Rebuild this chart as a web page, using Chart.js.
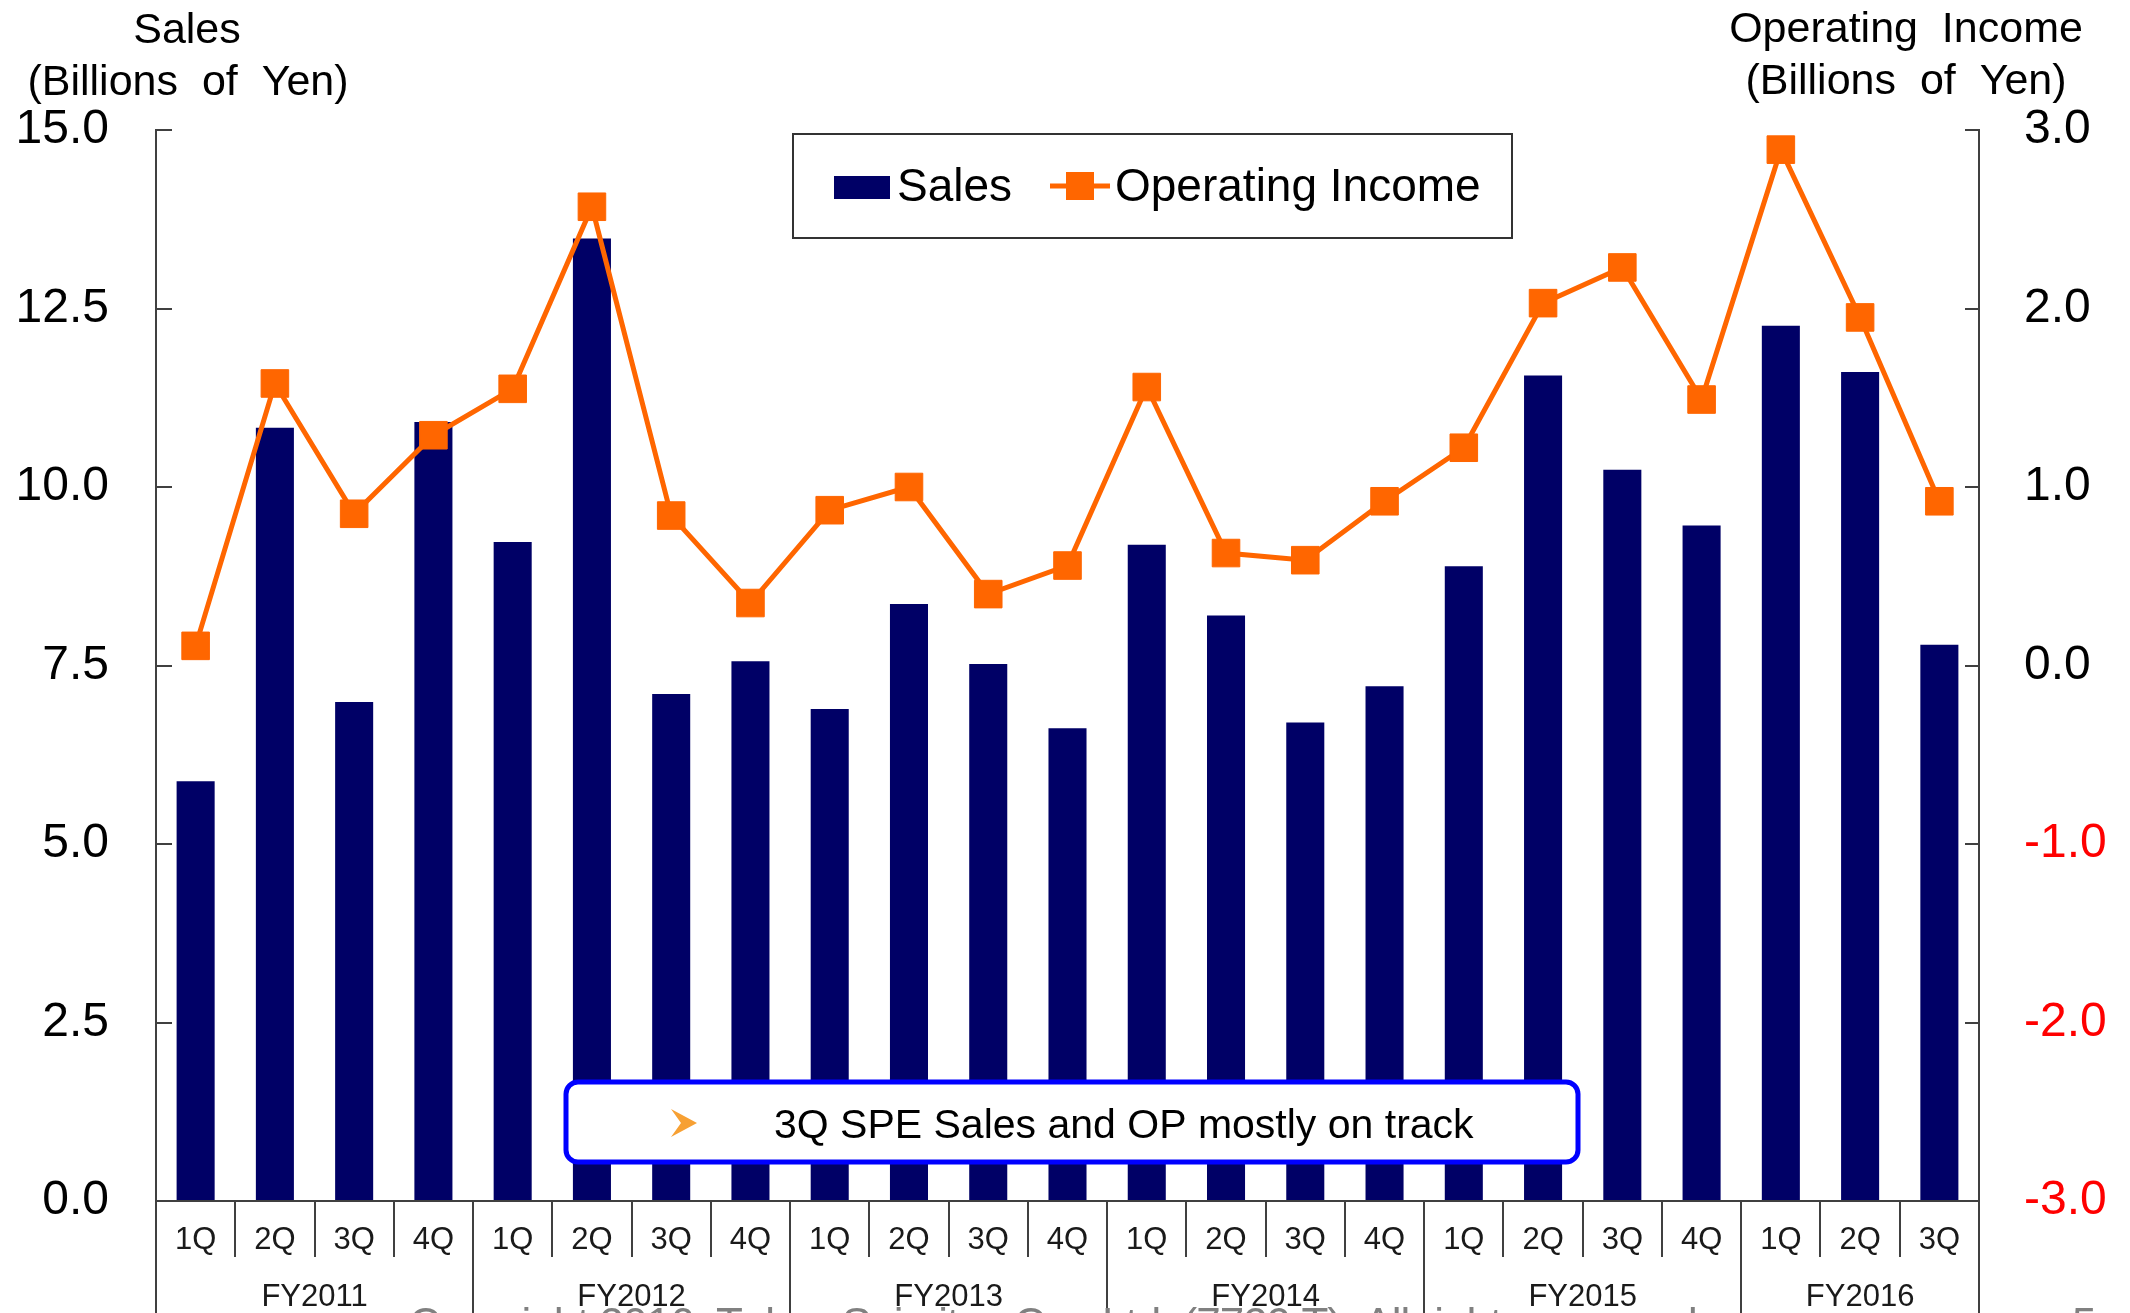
<!DOCTYPE html>
<html>
<head>
<meta charset="utf-8">
<title>Sales and Operating Income</title>
<script src="https://cdn.jsdelivr.net/npm/chart.js@4.4.1/dist/chart.umd.min.js"></script>
<style>
  html, body { margin: 0; padding: 0; background: #fff; }
  #chart-container { width: 2130px; height: 1313px; }
</style>
</head>
<body>
<div id="chart-container"><canvas id="sales-chart" width="2130" height="1313"></canvas></div>
<script>
// --- data ---
const quarterLabels = ['1Q', '2Q', '3Q', '4Q', '1Q', '2Q', '3Q', '4Q', '1Q', '2Q', '3Q', '4Q',
                       '1Q', '2Q', '3Q', '4Q', '1Q', '2Q', '3Q', '4Q', '1Q', '2Q', '3Q'];
const fiscalYears = ['FY2011', 'FY2012', 'FY2013', 'FY2014', 'FY2015', 'FY2016'];
const quartersPerYear = [4, 4, 4, 4, 4, 3];
const sales = [5.88, 10.83, 6.99, 10.91, 9.23, 13.48, 7.10, 7.56, 6.89, 8.36, 7.52, 6.62,
               9.19, 8.20, 6.70, 7.21, 8.89, 11.56, 10.24, 9.46, 12.26, 11.61, 7.79];
const operatingIncome = [0.11, 1.58, 0.85, 1.29, 1.55, 2.57, 0.84, 0.35, 0.87, 1.00, 0.40, 0.56,
                         1.56, 0.63, 0.59, 0.92, 1.22, 2.03, 2.23, 1.49, 2.89, 1.95, 0.92];
const salesTicks = [0, 2.5, 5, 7.5, 10, 12.5, 15];
const incomeTicks = [-3, -2, -1, 0, 1, 2, 3];

const FONT = "'Liberation Sans', Arial, sans-serif";
const NAVY = '#000066';
const ORANGE = '#FF6600';
const AXIS = '#404040';

Chart.defaults.font.family = FONT;

// everything Chart.js has no option for: titles, fiscal year boxes, legend box, callout, footer
const slideExtras = {
    id: 'slideExtras',
    afterDraw(chart) {
        const ctx = chart.ctx;
        const area = chart.chartArea;
        const x = chart.scales.x;
        ctx.save();

        // axis titles
        ctx.fillStyle = '#000';
        ctx.font = '43px ' + FONT;
        ctx.textAlign = 'center';
        ctx.textBaseline = 'middle';
        ctx.fillText('Sales', 187, 31);
        ctx.fillText('(Billions  of  Yen)', 188, 83);
        ctx.fillText('Operating  Income', 1906, 30);
        ctx.fillText('(Billions  of  Yen)', 1906, 82);

        // fiscal year separators + labels
        const half = (x.getPixelForValue(1) - x.getPixelForValue(0)) / 2;
        ctx.strokeStyle = AXIS;
        ctx.lineWidth = 2;
        ctx.font = '31px ' + FONT;
        ctx.fillStyle = '#1a1a1a';
        let start = 0;
        fiscalYears.forEach((fy, i) => {
            const end = start + quartersPerYear[i] - 1;
            const left = x.getPixelForValue(start) - half;
            const right = x.getPixelForValue(end) + half;
            [left, right].forEach(px => {
                ctx.beginPath();
                ctx.moveTo(Math.round(px), area.bottom);
                ctx.lineTo(Math.round(px), chart.height);
                ctx.stroke();
            });
            ctx.fillText(fy, (left + right) / 2, area.bottom + 96);
            start = end + 1;
        });

        // legend box
        const ds = chart.data.datasets;
        ctx.lineWidth = 2;
        ctx.strokeStyle = '#333';
        ctx.strokeRect(793, 134, 719, 104);
        ctx.fillStyle = NAVY;
        ctx.fillRect(834, 176, 56, 23);
        ctx.strokeStyle = ORANGE;
        ctx.lineWidth = 5;
        ctx.beginPath();
        ctx.moveTo(1050, 186);
        ctx.lineTo(1110, 186);
        ctx.stroke();
        ctx.fillStyle = ORANGE;
        ctx.fillRect(1066, 172, 28, 28);
        ctx.fillStyle = '#000';
        ctx.font = '46px ' + FONT;
        ctx.textAlign = 'left';
        ctx.fillText(ds[1].label, 897, 188);
        ctx.fillText(ds[0].label, 1115, 188);

        // callout
        ctx.beginPath();
        ctx.roundRect(566, 1082, 1012, 80, 12);
        ctx.fillStyle = '#fff';
        ctx.fill();
        ctx.lineWidth = 5;
        ctx.strokeStyle = '#0000FF';
        ctx.stroke();
        ctx.beginPath();
        ctx.moveTo(671, 1109);
        ctx.lineTo(697, 1123);
        ctx.lineTo(671, 1137);
        ctx.lineTo(681, 1123);
        ctx.closePath();
        ctx.fillStyle = '#F7A033';
        ctx.fill();
        ctx.fillStyle = '#000';
        ctx.font = '41px ' + FONT;
        ctx.fillText('3Q SPE Sales and OP mostly on track', 774, 1127);

        // footer, mostly cut off by the bottom edge
        const footer = 'Copyright 2016  Tokyo Seimitsu Co., Ltd. (7729.T)  All rights reserved.';
        ctx.font = '44px ' + FONT;
        ctx.fillStyle = '#808080';
        ctx.textBaseline = 'alphabetic';
        const natural = ctx.measureText(footer).width;
        const gap = (1295 - natural) / (footer.length - 1);
        let fx = 409;
        for (const ch of footer) {
            ctx.fillText(ch, fx, 1339);
            fx += ctx.measureText(ch).width + gap;
        }
        ctx.fillText('5', 2072, 1339);

        ctx.restore();
    }
};

new Chart(document.getElementById('sales-chart'), {
    data: {
        labels: quarterLabels,
        datasets: [
            {
                type: 'line',
                label: 'Operating Income',
                data: operatingIncome,
                yAxisID: 'y1',
                borderColor: ORANGE,
                borderWidth: 5,
                tension: 0,
                pointStyle: 'rect',
                pointRadius: 19.5,
                pointBackgroundColor: ORANGE,
                pointBorderColor: ORANGE,
                pointBorderWidth: 1,
                order: 0
            },
            {
                type: 'bar',
                label: 'Sales',
                data: sales,
                yAxisID: 'y',
                backgroundColor: NAVY,
                categoryPercentage: 1,
                barPercentage: 0.48,
                order: 1
            }
        ]
    },
    options: {
        responsive: false,
        animation: false,
        devicePixelRatio: 1,
        layout: { padding: { top: 130, left: 0, right: 0, bottom: 0 } },
        plugins: {
            legend: { display: false },
            tooltip: { enabled: false },
            title: { display: false }
        },
        scales: {
            x: {
                offset: true,
                grid: { drawOnChartArea: false, offset: true, tickLength: 56, color: AXIS, lineWidth: 2 },
                border: { display: true, color: AXIS, width: 2 },
                ticks: {
                    color: '#1a1a1a',
                    font: { size: 31 },
                    padding: -35,
                    autoSkip: false,
                    maxRotation: 0
                },
                afterFit: (scale) => { scale.height = 112; }
            },
            y: {
                position: 'left',
                min: 0,
                max: 15,
                afterBuildTicks: (scale) => { scale.ticks = salesTicks.map(v => ({ value: v })); },
                grid: { drawOnChartArea: false, tickLength: -16, color: AXIS, lineWidth: 2 },
                border: { display: true, color: AXIS, width: 2 },
                ticks: {
                    color: '#000',
                    font: { size: 48 },
                    padding: 63,
                    callback: (v) => Number(v).toFixed(1)
                },
                afterFit: (scale) => { scale.width = 156; }
            },
            y1: {
                position: 'right',
                min: -3,
                max: 3,
                afterBuildTicks: (scale) => { scale.ticks = incomeTicks.map(v => ({ value: v })); },
                grid: { drawOnChartArea: false, tickLength: -14, color: AXIS, lineWidth: 2 },
                border: { display: true, color: AXIS, width: 2 },
                ticks: {
                    color: (c) => (c.tick && c.tick.value < 0 ? '#FF0000' : '#000'),
                    font: { size: 48 },
                    padding: 59,
                    callback: (v) => Number(v).toFixed(1)
                },
                afterFit: (scale) => { scale.width = 151; }
            }
        }
    },
    plugins: [slideExtras]
});
</script>
</body>
</html>
